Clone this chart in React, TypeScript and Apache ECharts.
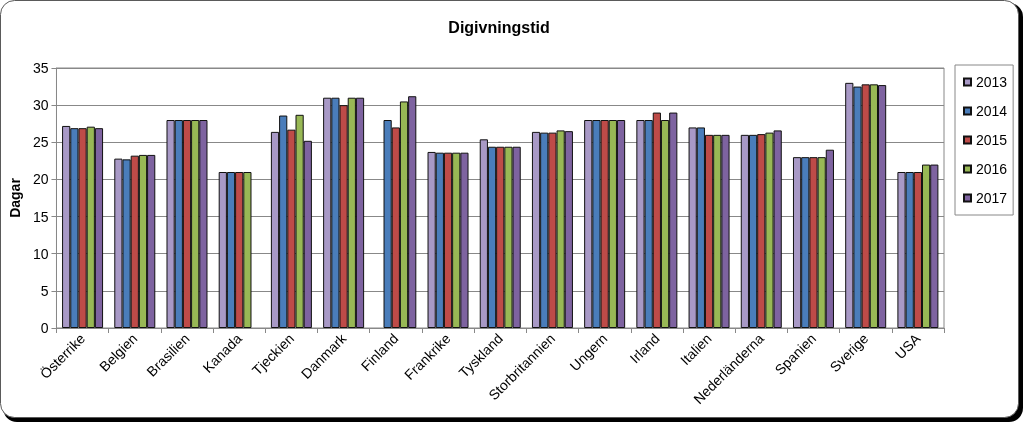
import React, { useEffect, useRef } from "react";
import * as echarts from "echarts";

const categories = [
  "Österrike", "Belgien", "Brasilien", "Kanada", "Tjeckien", "Danmark", "Finland",
  "Frankrike", "Tyskland", "Storbritannien", "Ungern", "Irland", "Italien",
  "Nederländerna", "Spanien", "Sverige", "USA",
];

const years = ["2013", "2014", "2015", "2016", "2017"];

const v2013 = [27.2, 22.8, 28, 21, 26.4, 31, null, 23.7, 25.4, 26.4, 28, 28, 27, 26, 23, 33, 21];
const v2014 = [26.9, 22.7, 28, 21, 28.6, 31, 28, 23.6, 24.4, 26.3, 28, 28, 27, 26, 23, 32.5, 21];
const v2015 = [26.9, 23.2, 28, 21, 26.7, 30, 27, 23.6, 24.4, 26.3, 28, 29, 26, 26.1, 23, 32.8, 21];
const v2016 = [27.1, 23.3, 28, 21, 28.7, 31, 30.5, 23.6, 24.4, 26.6, 28, 28, 26, 26.3, 23, 32.8, 22];
const v2017 = [26.9, 23.3, 28, null, 25.2, 31, 31.2, 23.6, 24.4, 26.5, 28, 29, 26, 26.6, 24, 32.7, 22];

const seriesValues = [v2013, v2014, v2015, v2016, v2017];
const colors = ["#A899C6", "#4A7DBA", "#BE4B48", "#98B855", "#7E63A0"];

const FONT = "'Liberation Sans', Arial, sans-serif";

export default function App() {
  const ref = useRef<HTMLDivElement>(null);

  useEffect(() => {
    if (!ref.current) return;
    const chart = echarts.init(ref.current, null, { renderer: "svg" });
    chart.setOption({
      animation: false,
      textStyle: { fontFamily: FONT },
      graphic: [
        {
          type: "rect",
          z: -10,
          shape: { x: 3, y: 3, width: 1020, height: 419, r: 14 },
          style: { fill: "#000" },
          silent: true,
        },
        {
          type: "rect",
          z: -9,
          shape: { x: 0.5, y: 0.5, width: 1018, height: 417, r: 14 },
          style: { fill: "#fff", stroke: "#5a5a5a", lineWidth: 1 },
          silent: true,
        },
        {
          type: "text",
          x: 499,
          y: 27,
          style: {
            text: "Digivningstid",
            fill: "#000",
            font: `bold 16px ${FONT}`,
            textAlign: "center",
            textVerticalAlign: "middle",
          },
        },
      ],
      grid: {
        left: 54,
        right: 79,
        top: 68,
        bottom: 94,
        show: true,
        borderColor: "#888",
        borderWidth: 1,
        backgroundColor: "transparent",
      },
      legend: {
        orient: "vertical",
        left: 955,
        top: 65,
        padding: [10, 6, 10, 8],
        itemGap: 15,
        itemWidth: 7,
        itemHeight: 7,
        icon: "rect",
        borderColor: "#888",
        borderWidth: 1,
        textStyle: { fontFamily: FONT, fontSize: 14, color: "#000", lineHeight: 14 },
        data: years,
      },
      xAxis: {
        type: "category",
        data: categories,
        axisLine: { lineStyle: { color: "#888" } },
        axisTick: { show: true, length: 5, lineStyle: { color: "#888" } },
        axisLabel: {
          interval: 0,
          rotate: 45,
          fontSize: 14,
          color: "#000",
          fontFamily: FONT,
          margin: 8,
        },
      },
      yAxis: {
        type: "value",
        min: 0,
        max: 35,
        interval: 5,
        name: "Dagar",
        nameLocation: "middle",
        nameRotate: 90,
        nameGap: 34,
        nameTextStyle: { fontWeight: "bold", fontSize: 14, color: "#000", fontFamily: FONT },
        axisLine: { show: true, lineStyle: { color: "#888" } },
        axisTick: { show: true, length: 5, lineStyle: { color: "#888" } },
        axisLabel: { fontSize: 14, color: "#000", fontFamily: FONT, margin: 8 },
        splitLine: { lineStyle: { color: "#888", width: 1 } },
      },
      series: years.map((y, i) => ({
        name: y,
        type: "bar",
        data: seriesValues[i],
        barWidth: 8.2,
        barGap: "0%",
        itemStyle: { color: colors[i], borderColor: "#111", borderWidth: 1 },
      })),
    });
    return () => chart.dispose();
  }, []);

  return (
    <div style={{ position: "fixed", left: 0, top: 0, width: 1023, height: 422 }}>
      <div ref={ref} style={{ width: 1023, height: 422 }} />
    </div>
  );
}
